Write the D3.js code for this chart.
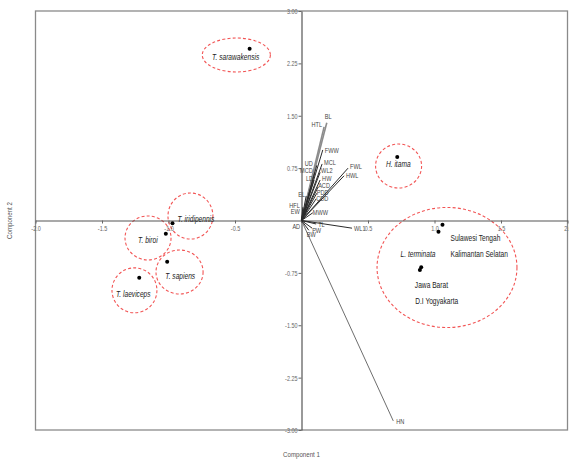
<!DOCTYPE html>
<html><head><meta charset="utf-8">
<script src="https://cdn.jsdelivr.net/npm/d3@7"></script>
<style>
body{margin:0;background:#fff;}
svg{display:block;font-family:"Liberation Sans Narrow","Liberation Sans",Arial,sans-serif;}
</style></head>
<body><svg id="c" width="569" height="463"></svg>
<script>
// ---- data ----
const xTicks = [-2.0, -1.5, -1.0, -0.5, 0.5, 1.0, 1.5, 2.0];
const xTickLabels = ["-2.0", "-1.5", "-1.0", "-0.5", "0.5", "1.0", "1.5", "2.0"];
const yTicks = [3.0, 2.25, 1.5, 0.75, -0.75, -1.5, -2.25, -3.0];
const yTickLabels = ["3.00", "2.25", "1.50", "0.75", "-0.75", "-1.50", "-2.25", "-3.00"];

const pointNames = ["T. sarawakensis", "H. itama", "T. iridipennis", "T. biroi", "T. sapiens", "T. laeviceps",
                    "Sulawesi Tengah", "Kalimantan Selatan", "Jawa Barat", "D.I Yogyakarta"];
const pointX = [-0.39, 0.72, -0.97, -1.02, -1.01, -1.22, 1.06, 1.03, 0.89, 0.90];
const pointY = [2.46, 0.91, -0.04, -0.19, -0.59, -0.82, -0.06, -0.16, -0.71, -0.67];

const vectorNames = ["BL", "HTL", "FWW", "MCL", "UD", "MCD", "WL2", "LD", "HW", "ACD", "PDD", "CDD",
                     "FWL", "HWL", "EL", "HFL", "EW", "MWW", "AD", "WL1", "HN", "PW", "BW", "TL"];
const vectorX = [0.19, 0.17, 0.16, 0.155, 0.115, 0.10, 0.14, 0.095, 0.14, 0.125, 0.115, 0.11,
                 0.35, 0.32, 0.035, 0.01, 0.01, 0.085, 0.005, 0.38, 0.69, 0.08, 0.055, 0.11];
const vectorY = [1.40, 1.34, 1.01, 0.81, 0.79, 0.69, 0.69, 0.58, 0.58, 0.48, 0.39, 0.31,
                 0.75, 0.64, 0.35, 0.19, 0.12, 0.11, -0.035, -0.11, -2.87, -0.11, -0.14, -0.05];

const groupName = ["T. sarawakensis", "H. itama", "T. iridipennis", "T. biroi", "T. sapiens", "T. laeviceps", "L. terminata"];
const groupCX = [-0.49, 0.73, -0.835, -1.154, -0.917, -1.256, 1.094];
const groupCY = [2.37, 0.78, 0.064, -0.25, -0.737, -1.0, -0.673];
const groupRX = [0.256, 0.173, 0.169, 0.173, 0.177, 0.169, 0.526];
const groupRY = [0.243, 0.315, 0.33, 0.315, 0.315, 0.322, 0.86];

// ---- layout ----
const svg = d3.select("#c");
const L = 35.5, R = 567.5, T = 11, B = 430;
const x = d3.scaleLinear().domain([-2, 2]).range([L, R]);
const y = d3.scaleLinear().domain([-3, 3]).range([B, T]);

// horizontally condense text around its own anchor point
function condense(sel, k) {
  sel.each(function () {
    const t = d3.select(this);
    const tx = +t.attr("x") || 0, ty = +t.attr("y") || 0;
    const prev = t.attr("transform") || "";
    t.attr("x", 0).attr("y", 0)
     .attr("transform", `${prev} translate(${tx},${ty}) scale(${k},1)`);
  });
}

// frame
svg.append("rect").attr("x", L).attr("y", T).attr("width", R - L).attr("height", B - T)
  .attr("fill", "none").attr("stroke", "#8a8a8a").attr("stroke-width", 1.3);

// ellipses
svg.append("g").selectAll("ellipse").data(groupName).join("ellipse")
  .attr("cx", (d, i) => x(groupCX[i])).attr("cy", (d, i) => y(groupCY[i]))
  .attr("rx", (d, i) => x(groupRX[i]) - x(0)).attr("ry", (d, i) => y(0) - y(groupRY[i]))
  .attr("fill", "none").attr("stroke", "#f25555").attr("stroke-width", 1.1)
  .attr("stroke-dasharray", "3,2.2");

// axes through origin
const xAxis = d3.axisBottom(x).tickValues(xTicks).tickFormat((d, i) => xTickLabels[i]).tickSize(3).tickSizeOuter(0);
const gx = svg.append("g").attr("transform", `translate(0,${y(0)})`).call(xAxis);
gx.select(".domain").attr("stroke", "#555").attr("stroke-width", 1.2);
gx.selectAll(".tick line").attr("stroke", "#666");
gx.selectAll(".tick text").attr("fill", "#666").attr("font-size", 7).attr("font-family", null).attr("dy", null).attr("y", 10);
condense(gx.selectAll(".tick text"), 0.78);

const yAxis = d3.axisLeft(y).tickValues(yTicks).tickFormat((d, i) => yTickLabels[i]).tickSize(3).tickSizeOuter(0);
const gy = svg.append("g").attr("transform", `translate(${x(0)},0)`).call(yAxis);
gy.select(".domain").attr("stroke", "#555").attr("stroke-width", 1.2);
gy.selectAll(".tick line").attr("stroke", "#666");
gy.selectAll(".tick text").attr("fill", "#666").attr("font-size", 7).attr("font-family", null).attr("dy", null).attr("y", 2.5).attr("x", -4);
condense(gy.selectAll(".tick text"), 0.78);

// axis titles
svg.append("text").attr("x", x(0)).attr("y", 457).attr("text-anchor", "middle")
  .attr("font-size", 7.5).attr("fill", "#555").text("Component 1").call(condense, 0.82);
svg.append("text").attr("transform", `translate(12,${y(0)}) rotate(-90) scale(0.82,1)`).attr("text-anchor", "middle")
  .attr("font-size", 7.5).attr("fill", "#555").text("Component 2");

// vectors
const lightVec = {"BL": "#8c8c8c", "HTL": "#8c8c8c", "HN": "#6e6e6e"};
const gv = svg.append("g");
gv.selectAll("line").data(vectorNames).join("line")
  .attr("x1", x(0)).attr("y1", y(0))
  .attr("x2", (d, i) => x(vectorX[i])).attr("y2", (d, i) => y(vectorY[i]))
  .attr("stroke", d => lightVec[d] || "#2a2a2a").attr("stroke-width", d => d === "BL" || d === "HTL" ? 1.6 : 1);

// label offsets (px) and anchors
const labelOff = {
  "BL": [-2, -4, "start"], "HTL": [-2, 0, "end"], "FWW": [2, 3, "start"], "MCL": [2, 1, "start"],
  "UD": [-4, 1, "end"], "MCD": [-2, 1, "end"], "WL2": [1, 1, "start"], "LD": [-1, 1, "end"],
  "HW": [2, 1, "start"], "ACD": [0, 1, "start"], "PDD": [0, 2, "start"], "CDD": [0, 2, "start"],
  "FWL": [2, 1, "start"], "HWL": [2, 2, "start"], "EL": [-1, 1, "end"], "HFL": [-3, 1, "end"],
  "EW": [-3, 2, "end"], "MWW": [0, 2, "start"], "AD": [-2, 6, "end"], "WL1": [2, 3, "start"],
  "HN": [3, 3, "start"], "PW": [0, 5, "start"], "BW": [-2, 7, "start"], "TL": [2, 3, "start"]
};
gv.selectAll("text").data(vectorNames).join("text")
  .attr("x", (d, i) => x(vectorX[i]) + labelOff[d][0])
  .attr("y", (d, i) => y(vectorY[i]) + labelOff[d][1])
  .attr("text-anchor", d => labelOff[d][2])
  .attr("font-size", 7).attr("fill", "#444").text(d => d)
  .call(condense, 0.8);

// points
svg.append("g").selectAll("circle").data(pointNames).join("circle")
  .attr("cx", (d, i) => x(pointX[i])).attr("cy", (d, i) => y(pointY[i]))
  .attr("r", 2).attr("fill", "#000");

// point labels (offsets in px relative to point)
const ptLab = {
  "T. sarawakensis": [-14, 11, "middle", true],
  "H. itama": [1, 10, "middle", true],
  "T. iridipennis": [5, -1, "start", true],
  "T. biroi": [-18, 9, "middle", true],
  "T. sapiens": [13, 17, "middle", true],
  "T. laeviceps": [-6, 19, "middle", true],
  "Sulawesi Tengah": [8, 16, "start", false],
  "Kalimantan Selatan": [12, 25, "start", false],
  "Jawa Barat": [-5, 18, "start", false],
  "D.I Yogyakarta": [-6, 37, "start", false]
};
svg.append("g").selectAll("text").data(pointNames).join("text")
  .attr("x", (d, i) => x(pointX[i]) + ptLab[d][0])
  .attr("y", (d, i) => y(pointY[i]) + ptLab[d][1])
  .attr("text-anchor", d => ptLab[d][2])
  .attr("font-style", d => ptLab[d][3] ? "italic" : "normal")
  .attr("font-size", 8.5).attr("fill", "#222").text(d => d)
  .call(condense, 0.78);

// group label for L. terminata (from group list)
svg.append("text").attr("x", x(groupCX[6]) - 29).attr("y", y(groupCY[6]) - 10)
  .attr("text-anchor", "middle").attr("font-style", "italic")
  .attr("font-size", 8.5).attr("fill", "#222").text(groupName[6])
  .call(condense, 0.78);
</script></body></html>
